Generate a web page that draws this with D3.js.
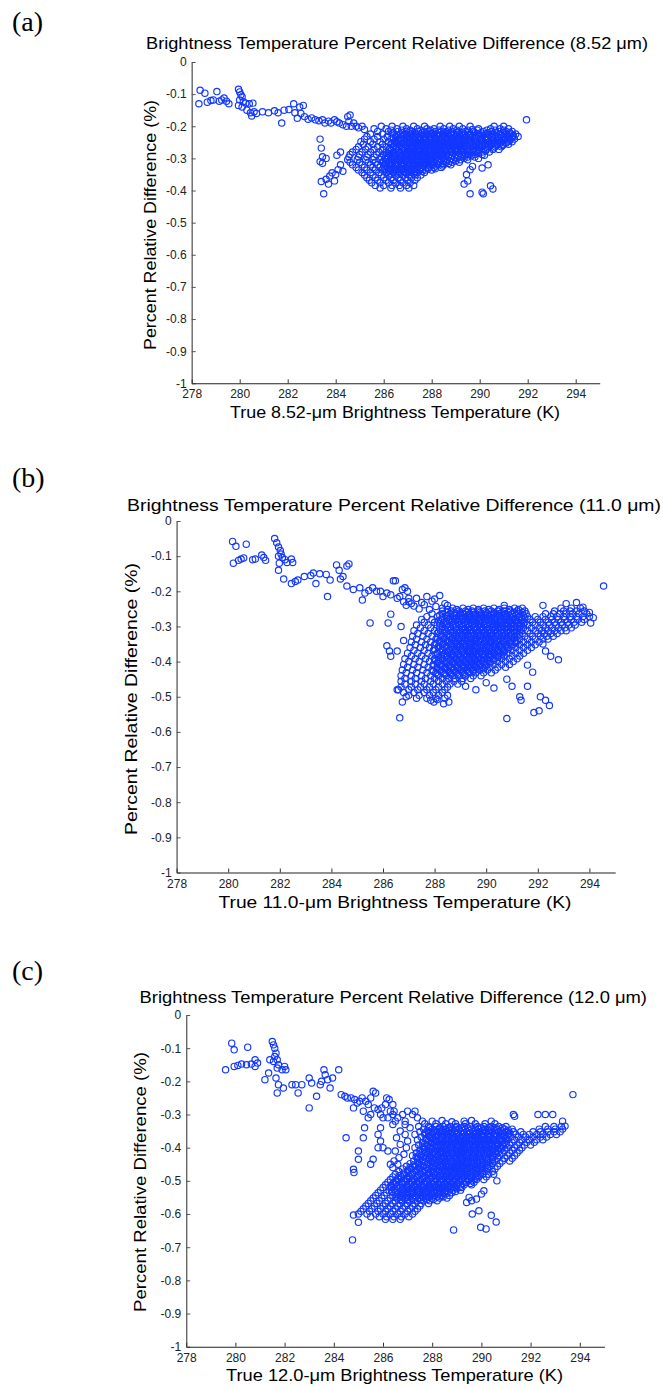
<!DOCTYPE html>
<html><head><meta charset="utf-8">
<script src="https://cdn.jsdelivr.net/npm/d3@7/dist/d3.min.js"></script>
<style>
html,body{margin:0;padding:0;background:#fff;}
svg{display:block;}
</style></head><body>
<svg id="fig" width="663" height="1389"></svg>
<script>
// Axis ticks and labels
const xTicks = [278, 280, 282, 284, 286, 288, 290, 292, 294];
const yTicks = [0, -0.1, -0.2, -0.3, -0.4, -0.5, -0.6, -0.7, -0.8, -0.9, -1];
const panelTags = ["(a)", "(b)", "(c)"];
const titles = [
  "Brightness Temperature Percent Relative Difference (8.52 \u03bcm)",
  "Brightness Temperature Percent Relative Difference (11.0 \u03bcm)",
  "Brightness Temperature Percent Relative Difference (12.0 \u03bcm)"
];
const xLabels = [
  "True 8.52-\u03bcm Brightness Temperature (K)",
  "True 11.0-\u03bcm Brightness Temperature (K)",
  "True 12.0-\u03bcm Brightness Temperature (K)"
];
const yLabel = "Percent Relative Difference (%)";

// ---- 8.52 um: scattered points [K, %] ----
const trailA = [
 [278.3,-.13],[278.35,-.088],[278.55,-.097],[278.65,-.125],[278.8,-.12],[278.9,-.118],[279.05,-.092],[279.15,-.122],[279.25,-.118],[279.35,-.112],[279.45,-.122],[279.55,-.13],
 [279.95,-.085],[280.0,-.093],[280.05,-.102],[280.1,-.108],[280.0,-.118],[280.15,-.124],[279.95,-.135],[280.1,-.14],[280.25,-.128],[280.3,-.15],[280.4,-.13],[280.45,-.158],[280.55,-.128],[280.6,-.155],[280.7,-.16],[280.5,-.168],
 [280.95,-.155],[281.2,-.158],[281.45,-.152],[281.6,-.158],[281.75,-.19],[281.85,-.15],[282.05,-.148],[282.25,-.13],[282.3,-.158],[282.4,-.175],[282.5,-.14],[282.55,-.16],[282.65,-.135],[282.7,-.17],[282.85,-.178],[283.0,-.174],[283.15,-.18],[283.3,-.183],[283.45,-.18],[283.55,-.19],[283.7,-.184],[283.8,-.19],[283.95,-.18],[284.05,-.186],[284.15,-.19],[284.3,-.195],[284.45,-.2],[284.5,-.17],[284.55,-.185],[284.6,-.165],[284.65,-.2],[284.75,-.19],[284.85,-.2],[284.95,-.205],[285.1,-.2],[285.2,-.21],
 [283.35,-.24],[283.4,-.268],[283.45,-.295],[283.6,-.3],[283.35,-.31],[283.45,-.315],[283.6,-.365],[283.4,-.372],[283.75,-.355],[283.85,-.345],[284.0,-.35],[284.1,-.335],[283.5,-.41],[283.7,-.38],[283.95,-.37],[284.2,-.32],[284.3,-.34],[284.05,-.29],[284.2,-.28],
 [289.45,-.35],[289.5,-.37],[289.6,-.335],[289.7,-.325],[289.35,-.38],[289.6,-.41],[290.1,-.405],[290.15,-.41],[290.45,-.385],[290.55,-.395],[289.95,-.3],[290.1,-.33],[290.35,-.32],[290.2,-.29],[291.95,-.18],[289.6,-.2],[289.7,-.21]
];
// ---- 8.52 um: dense cloud, listed per level [%, K values] ----
const coreA = [
 [-.200,[285.9,286.35,286.8,287.25,287.7,288.35,288.75,289.15,290.6,291.0]],
 [-.208,[285.6,286.1,286.55,286.95,287.4,287.8,288.1,288.5,288.9,289.3,289.95,290.45,290.85,291.2]],
 [-.216,[285.75,286.2,286.6,286.95,287.2,287.45,287.7,287.9,288.15,288.4,288.6,288.85,289.1,289.4,289.75,290.15,290.5,290.8,291.1,291.35]],
 [-.224,[285.45,285.95,286.35,286.7,286.95,287.15,287.35,287.55,287.8,288.0,288.2,288.45,288.65,288.9,289.15,289.35,289.6,289.95,290.25,290.55,290.85,291.1,291.3,291.5]],
 [-.232,[285.3,285.75,286.15,286.5,286.8,287.0,287.25,287.45,287.65,287.9,288.1,288.3,288.55,288.75,289.0,289.2,289.45,289.7,289.95,290.25,290.5,290.75,291.0,291.2,291.4,291.6]],
 [-.240,[285.2,285.6,286.0,286.3,286.6,286.85,287.1,287.3,287.55,287.75,287.95,288.2,288.4,288.65,288.85,289.1,289.3,289.55,289.8,290.05,290.3,290.55,290.8,291.05,291.25,291.45]],
 [-.248,[285.05,285.45,285.85,286.2,286.45,286.7,286.95,287.2,287.4,287.6,287.85,288.05,288.3,288.5,288.75,288.95,289.2,289.4,289.65,289.9,290.15,290.4,290.65,290.9,291.15,291.35]],
 [-.256,[285.15,285.55,285.95,286.3,286.55,286.8,287.05,287.3,287.5,287.7,287.95,288.15,288.35,288.6,288.8,289.05,289.25,289.5,289.75,290.0,290.25,290.5,290.75,291.0,291.2]],
 [-.264,[284.95,285.35,285.75,286.1,286.4,286.65,286.9,287.15,287.35,287.6,287.8,288.0,288.25,288.45,288.7,288.9,289.15,289.35,289.6,289.85,290.1,290.35,290.65,290.9]],
 [-.272,[284.85,285.25,285.6,285.95,286.25,286.5,286.75,287.0,287.2,287.45,287.65,287.9,288.1,288.3,288.55,288.75,289.0,289.2,289.45,289.7,289.95,290.25,290.55,290.8]],
 [-.280,[284.7,285.1,285.45,285.8,286.1,286.4,286.65,286.9,287.1,287.3,287.55,287.75,287.95,288.2,288.4,288.6,288.85,289.05,289.3,289.55,289.8,290.1,290.4]],
 [-.288,[284.6,285.0,285.35,285.7,286.0,286.3,286.55,286.8,287.0,287.25,287.45,287.65,287.9,288.1,288.3,288.5,288.75,289.0,289.25,289.5,289.8,290.1]],
 [-.296,[284.55,284.95,285.3,285.6,285.9,286.2,286.45,286.7,286.95,287.15,287.35,287.6,287.8,288.0,288.25,288.45,288.7,288.95,289.2,289.5,289.8]],
 [-.304,[284.5,284.9,285.25,285.55,285.85,286.1,286.35,286.6,286.85,287.05,287.3,287.5,287.75,287.95,288.15,288.4,288.65,288.9,289.2,289.5]],
 [-.312,[284.6,285.0,285.35,285.65,285.95,286.25,286.5,286.75,286.95,287.2,287.4,287.65,287.85,288.1,288.35,288.6,288.85,289.15]],
 [-.320,[284.7,285.1,285.45,285.75,286.05,286.3,286.55,286.8,287.05,287.3,287.5,287.75,288.0,288.25,288.5,288.8]],
 [-.328,[284.85,285.2,285.55,285.85,286.15,286.4,286.65,286.9,287.15,287.4,287.6,287.85,288.1,288.4]],
 [-.336,[284.95,285.3,285.65,285.95,286.25,286.5,286.75,287.0,287.25,287.5,287.75,288.0]],
 [-.344,[285.1,285.45,285.8,286.1,286.4,286.65,286.9,287.15,287.4,287.7]],
 [-.352,[285.2,285.55,285.9,286.2,286.5,286.8,287.05,287.3,287.55]],
 [-.360,[285.3,285.65,286.0,286.3,286.6,286.9,287.15,287.4]],
 [-.368,[285.4,285.75,286.1,286.4,286.7,287.0,287.3]],
 [-.376,[285.5,285.85,286.2,286.5,286.8,287.1]],
 [-.384,[285.65,286.0,286.35,286.65,286.95,287.25]],
 [-.392,[285.85,286.3,286.7,287.05]]
];
// the most crowded part of the 8.52 um cloud, between the levels above
const fillA = [
 [-.212,[286.3,286.75,287.1,287.55,287.95,288.3,288.7,289.05,289.5,289.9,290.3,290.65,291.0]],
 [-.220,[286.4,286.8,287.05,287.3,287.6,287.8,288.05,288.3,288.55,288.8,289.05,289.25,289.5,289.8,290.05,290.35,290.7,290.95,291.25]],
 [-.228,[286.55,286.85,287.1,287.35,287.6,287.85,288.1,288.3,288.5,288.8,289.05,289.3,289.55,289.8,290.1,290.4,290.65,290.9,291.15,291.4]],
 [-.236,[286.4,286.7,286.95,287.2,287.45,287.7,287.95,288.15,288.45,288.65,288.9,289.15,289.4,289.6,289.85,290.1,290.35,290.65,290.9,291.15,291.35]],
 [-.244,[286.5,286.75,287.0,287.25,287.5,287.7,287.9,288.15,288.35,288.6,288.8,289.05,289.3,289.5,289.75,290.0,290.25,290.5,290.75,291.0,291.25]],
 [-.252,[286.35,286.6,286.85,287.1,287.35,287.55,287.8,288.0,288.25,288.45,288.65,288.9,289.1,289.35,289.6,289.85,290.1,290.35,290.6,290.85,291.1]],
 [-.260,[286.45,286.7,286.95,287.2,287.45,287.65,287.85,288.1,288.3,288.55,288.75,289.0,289.2,289.45,289.7,289.95,290.2,290.45,290.7,290.95]],
 [-.268,[286.25,286.55,286.8,287.05,287.25,287.5,287.7,287.95,288.15,288.35,288.6,288.8,289.05,289.3,289.5,289.75,290.0,290.3,290.55]],
 [-.276,[286.3,286.6,286.85,287.05,287.25,287.45,287.7,287.9,288.1,288.35,288.55,288.8,289.0,289.25,289.5,289.7,289.95,290.25]],
 [-.284,[286.2,286.45,286.7,286.95,287.15,287.35,287.6,287.8,288.05,288.25,288.45,288.65,288.9,289.15,289.4,289.65,289.95]],
 [-.292,[286.1,286.4,286.65,286.9,287.1,287.3,287.5,287.75,287.95,288.15,288.4,288.6,288.85,289.1,289.35,289.65]],
 [-.300,[286.05,286.3,286.55,286.75,287.0,287.2,287.4,287.65,287.85,288.05,288.3,288.5,288.8,289.05,289.35]],
 [-.308,[286.0,286.25,286.45,286.7,286.9,287.15,287.35,287.6,287.8,288.0,288.25,288.5,288.75,289.0]],
 [-.316,[286.1,286.35,286.6,286.85,287.1,287.3,287.55,287.75,287.95,288.2,288.45,288.7]],
 [-.324,[286.0,286.25,286.5,286.75,287.0,287.2,287.45,287.65,287.9,288.15,288.45]],
 [-.332,[286.05,286.3,286.55,286.8,287.05,287.3,287.55,287.85,288.15]],
 [-.340,[286.2,286.5,286.8,287.05,287.3,287.6]],
 [-.348,[286.3,286.6,286.95,287.25]]
];

// ---- 11.0 um ----
const trailB = [
 [280.17,-.058],[280.3,-.072],[280.2,-.12],[280.4,-.112],[280.5,-.108],[280.6,-.105],[280.7,-.066],[280.95,-.11],[281.05,-.108],[281.3,-.097],[281.38,-.104],[281.45,-.112],
 [281.8,-.05],[281.88,-.062],[281.95,-.074],[282.02,-.084],[281.95,-.1],[282.05,-.094],[282.1,-.104],[281.98,-.12],[281.95,-.14],[282.2,-.11],[282.28,-.118],[282.45,-.108],[282.5,-.118],[282.15,-.165],[282.45,-.178],[282.6,-.172],[282.7,-.168],[282.95,-.158],[283.2,-.155],[283.3,-.148],[283.4,-.178],[283.55,-.15],[283.8,-.152],[283.95,-.168],[283.85,-.215],[284.2,-.125],[284.3,-.14],[284.35,-.165],[284.45,-.158],[284.6,-.128],[284.68,-.122],[284.6,-.185],[284.85,-.195],[285.1,-.19],[285.2,-.225],[285.3,-.205],[285.45,-.198],[285.6,-.19],[285.75,-.2],[285.9,-.2],[286.0,-.215],[286.15,-.205],[286.3,-.21],[286.4,-.17],[286.48,-.17],[286.55,-.22],[286.65,-.215],[286.75,-.195],[286.85,-.19],[286.95,-.2],[287.0,-.22],[287.1,-.235],[286.8,-.23],
 [287.3,-.22],[287.7,-.215],[288.0,-.222],[288.2,-.212],[287.0,-.23],[287.5,-.232],[287.9,-.228],[288.4,-.235],[286.9,-.24],[287.2,-.242],[287.6,-.238],[288.05,-.243],[288.5,-.24],[290.7,-.24],[287.4,-.25],[287.8,-.252],[288.3,-.248],
 [285.5,-.29],[286.2,-.29],[286.3,-.265],[286.15,-.355],[286.25,-.37],[286.3,-.385],[286.55,-.37],[286.8,-.34],[286.7,-.3],[286.55,-.48],[286.9,-.5],[286.65,-.56],[286.75,-.515],
 [287.85,-.51],[287.97,-.515],[288.1,-.508],[288.35,-.52],[288.55,-.515],[290.8,-.562],[291.35,-.51],[291.85,-.545],[292.05,-.54],[292.3,-.51],[292.45,-.525],
 [289.2,-.47],[289.6,-.48],[290.0,-.46],[290.3,-.475],[290.8,-.45],[291.0,-.47],[291.3,-.5],[291.6,-.47],[292.1,-.5],[291.6,-.41],[291.8,-.43],[292.2,-.35],[292.3,-.37],[292.5,-.385],[292.8,-.395],
 [294.55,-.185],[292.2,-.24],[293.1,-.235],[293.5,-.232],[293.75,-.245],[294.0,-.26],[294.15,-.275],[294.05,-.29]
];
const coreB = [
 [-.248,[288.7,289.1,289.5,289.9,290.3,290.7,291.1,291.4,292.9,293.3,293.65]],
 [-.256,[288.3,288.65,288.95,289.2,289.45,289.7,289.95,290.2,290.45,290.7,290.95,291.2,291.5,292.65,293.0,293.25,293.5,293.8]],
 [-.264,[287.9,288.3,288.6,288.85,289.1,289.35,289.6,289.8,290.05,290.3,290.5,290.75,291.0,291.25,291.55,292.3,292.6,292.85,293.1,293.35,293.6,293.9]],
 [-.272,[287.7,288.1,288.45,288.7,288.95,289.2,289.4,289.65,289.9,290.1,290.35,290.6,290.8,291.05,291.3,291.6,291.9,292.2,292.5,292.75,293.0,293.25,293.5,293.75,294.0]],
 [-.280,[287.5,287.9,288.25,288.55,288.8,289.05,289.3,289.5,289.75,290.0,290.2,290.45,290.7,290.9,291.15,291.4,291.7,292.0,292.3,292.55,292.8,293.05,293.3,293.55,293.8]],
 [-.288,[287.6,288.0,288.35,288.65,288.9,289.15,289.4,289.6,289.85,290.1,290.3,290.55,290.8,291.0,291.25,291.5,291.8,292.1,292.4,292.65,292.9,293.15,293.4,293.7]],
 [-.296,[287.3,287.75,288.1,288.45,288.7,288.95,289.2,289.45,289.7,289.9,290.15,290.4,290.6,290.85,291.1,291.35,291.6,291.9,292.2,292.45,292.7,292.95,293.2,293.45]],
 [-.304,[287.45,287.85,288.2,288.5,288.8,289.05,289.3,289.5,289.75,290.0,290.25,290.45,290.7,290.95,291.2,291.45,291.75,292.05,292.3,292.55,292.8,293.05,293.3]],
 [-.312,[287.2,287.6,288.0,288.3,288.6,288.85,289.1,289.35,289.6,289.8,290.05,290.3,290.55,290.8,291.05,291.3,291.6,291.9,292.15,292.4,292.65,292.9,293.1]],
 [-.320,[287.35,287.75,288.1,288.4,288.7,288.95,289.2,289.4,289.65,289.9,290.15,290.35,290.6,290.85,291.1,291.4,291.7,292.0,292.25,292.5,292.75]],
 [-.328,[287.15,287.55,287.9,288.25,288.55,288.8,289.05,289.3,289.5,289.75,290.0,290.2,290.45,290.7,290.95,291.2,291.5,291.8,292.1,292.35,292.6]],
 [-.336,[287.3,287.7,288.05,288.35,288.65,288.9,289.15,289.4,289.6,289.85,290.1,290.3,290.55,290.8,291.05,291.3,291.6,291.9,292.2,292.4]],
 [-.344,[287.1,287.5,287.85,288.2,288.5,288.75,289.0,289.25,289.45,289.7,289.95,290.2,290.4,290.65,290.9,291.15,291.45,291.75,292.05]],
 [-.352,[287.25,287.65,288.0,288.3,288.6,288.85,289.1,289.35,289.55,289.8,290.05,290.3,290.5,290.75,291.0,291.3,291.6,291.9]],
 [-.360,[287.05,287.45,287.8,288.15,288.45,288.7,288.95,289.2,289.4,289.65,289.9,290.15,290.35,290.6,290.85,291.15,291.45,291.75]],
 [-.368,[287.2,287.6,287.95,288.3,288.55,288.8,289.05,289.3,289.5,289.75,290.0,290.25,290.45,290.7,291.0,291.3,291.6]],
 [-.376,[286.95,287.35,287.75,288.1,288.4,288.65,288.9,289.15,289.35,289.6,289.85,290.1,290.3,290.55,290.85,291.15,291.45]],
 [-.384,[287.1,287.5,287.9,288.25,288.5,288.75,289.0,289.25,289.5,289.7,289.95,290.2,290.45,290.7,291.0,291.3]],
 [-.392,[286.85,287.25,287.65,288.0,288.3,288.6,288.85,289.1,289.35,289.55,289.8,290.05,290.3,290.6,290.9,291.2]],
 [-.400,[287.0,287.4,287.8,288.15,288.45,288.7,288.95,289.2,289.45,289.65,289.9,290.15,290.45,290.75,291.05]],
 [-.408,[286.8,287.2,287.6,287.95,288.25,288.55,288.8,289.05,289.3,289.5,289.75,290.0,290.3,290.6,290.9]],
 [-.416,[286.95,287.35,287.75,288.1,288.4,288.65,288.9,289.15,289.4,289.6,289.85,290.15,290.45,290.75]],
 [-.424,[286.75,287.15,287.55,287.9,288.2,288.5,288.75,289.0,289.25,289.5,289.75,290.05,290.35]],
 [-.432,[286.9,287.3,287.7,288.05,288.35,288.6,288.85,289.1,289.35,289.6,289.9,290.2]],
 [-.440,[286.7,287.1,287.5,287.85,288.15,288.45,288.7,288.95,289.2,289.5,289.8]],
 [-.448,[286.85,287.25,287.65,288.0,288.3,288.55,288.8,289.1,289.4]],
 [-.456,[286.7,287.1,287.5,287.85,288.15,288.45,288.75,289.05]],
 [-.464,[286.85,287.25,287.6,287.95,288.3,288.6,288.9]],
 [-.472,[286.7,287.1,287.45,287.8,288.15,288.5]],
 [-.480,[286.6,287.0,287.35,287.7,288.05,288.4]],
 [-.488,[286.8,287.2,287.6,287.95,288.3]],
 [-.496,[287.0,287.4,287.8,288.15,288.5]],
 [-.504,[287.3,287.7,288.05,288.4]]
];
const fillB = [
 [-.252,[288.5,288.85,289.3,289.7,290.1,290.5,290.9,291.25]],
 [-.260,[288.45,288.75,289.0,289.25,289.5,289.75,290.0,290.3,290.6,290.85,291.1,291.4]],
 [-.268,[288.2,288.5,288.75,289.0,289.3,289.5,289.75,289.95,290.2,290.45,290.7,290.9,291.15,291.45]],
 [-.276,[288.3,288.6,288.85,289.1,289.35,289.6,289.8,290.05,290.3,290.55,290.75,291.0,291.25,291.5]],
 [-.284,[288.15,288.45,288.7,288.95,289.2,289.45,289.7,289.95,290.15,290.35,290.6,290.85,291.1,291.35]],
 [-.292,[288.2,288.5,288.8,289.05,289.3,289.55,289.75,290.0,290.25,290.45,290.7,290.95,291.2,291.45]],
 [-.300,[288.3,288.6,288.85,289.1,289.35,289.6,289.8,290.05,290.3,290.55,290.8,291.05,291.3]],
 [-.308,[288.4,288.65,288.95,289.2,289.4,289.65,289.9,290.15,290.35,290.6,290.85,291.1,291.35]],
 [-.316,[288.15,288.45,288.75,289.0,289.25,289.5,289.7,289.95,290.2,290.45,290.7,290.95,291.2]],
 [-.324,[288.25,288.55,288.85,289.1,289.3,289.55,289.8,290.05,290.25,290.5,290.75,291.0,291.3]],
 [-.332,[288.1,288.4,288.7,288.95,289.2,289.4,289.65,289.9,290.1,290.35,290.6,290.85,291.1]],
 [-.340,[288.2,288.5,288.8,289.05,289.3,289.55,289.75,290.0,290.2,290.45,290.7,290.95,291.2]],
 [-.348,[288.05,288.35,288.65,288.9,289.15,289.4,289.65,289.9,290.15,290.35,290.6,290.9,291.15]],
 [-.356,[288.15,288.45,288.75,289.0,289.25,289.5,289.75,290.0,290.25,290.5,290.75,291.0]],
 [-.364,[288.0,288.3,288.6,288.85,289.1,289.35,289.6,289.85,290.1,290.35,290.6,290.85]],
 [-.372,[288.2,288.5,288.8,289.05,289.3,289.5,289.75,289.95,290.2,290.45,290.7]],
 [-.380,[288.05,288.35,288.65,288.9,289.15,289.4,289.6,289.85,290.1,290.35,290.6]],
 [-.388,[288.15,288.45,288.75,289.0,289.25,289.45,289.7,289.9,290.15,290.45]],
 [-.396,[288.0,288.3,288.6,288.85,289.1,289.35,289.55,289.8,290.05,290.3]],
 [-.404,[288.1,288.4,288.7,288.95,289.2,289.4,289.65,289.9,290.15]],
 [-.412,[287.95,288.25,288.55,288.85,289.1,289.3,289.55,289.75,290.0]],
 [-.420,[288.1,288.4,288.65,288.9,289.15,289.4,289.65,289.9]],
 [-.428,[287.95,288.25,288.55,288.8,289.05,289.3,289.5]],
 [-.436,[288.1,288.4,288.65,288.9,289.15]]
];

// ---- 12.0 um ----
const trailC = [
 [279.6,-.165],[279.85,-.085],[279.95,-.105],[279.95,-.155],[280.1,-.152],[280.25,-.148],[280.45,-.15],[280.5,-.097],[280.65,-.148],[280.8,-.135],[280.8,-.155],[280.9,-.145],[281.2,-.195],[281.35,-.175],[281.4,-.135],[281.5,-.08],[281.55,-.09],[281.6,-.1],[281.65,-.115],[281.6,-.125],[281.55,-.14],[281.7,-.135],[281.75,-.15],[281.7,-.16],[281.65,-.19],[281.75,-.21],[281.7,-.235],[281.95,-.22],[281.9,-.165],[282.05,-.165],[282.0,-.155],
 [282.3,-.21],[282.45,-.21],[282.55,-.235],[282.7,-.21],[283.0,-.19],[283.0,-.28],[283.1,-.205],[283.3,-.245],[283.45,-.21],[283.5,-.2],[283.6,-.165],[283.65,-.18],[283.75,-.195],[283.85,-.22],[283.95,-.19],[284.2,-.165],[284.3,-.24],[284.45,-.245],[284.55,-.25],[284.7,-.25],[284.85,-.255],[284.95,-.265],[285.05,-.26],[285.15,-.25],[285.3,-.26],[285.4,-.27],[285.5,-.25],[285.6,-.23],[285.7,-.235],
 [285.2,-.29],[285.4,-.31],[285.5,-.3],[285.65,-.28],[285.8,-.285],[285.95,-.28],[286.1,-.27],[286.15,-.25],[286.25,-.255],[286.0,-.31],[285.9,-.3],[286.3,-.29],[286.4,-.27],[286.45,-.29],
 [286.4,-.3],[286.8,-.3],[287.2,-.3],[286.2,-.31],[286.6,-.31],[287.0,-.29],[287.4,-.31],[286.5,-.32],[286.9,-.32],[287.3,-.29],[287.6,-.32],[288.0,-.32],[288.4,-.318],[288.8,-.322],[289.3,-.32],[289.6,-.318],[290.4,-.32],
 [286.9,-.33],[287.1,-.34],[286.7,-.35],[286.4,-.33],[286.9,-.36],[286.55,-.37],[287.0,-.38],[286.7,-.39],[286.5,-.41],[286.85,-.42],[286.65,-.43],[286.45,-.44],[286.6,-.45],[286.95,-.4],
 [284.5,-.37],[284.8,-.28],[285.0,-.41],[285.2,-.37],[285.25,-.34],[284.8,-.465],[284.82,-.475],[285.0,-.435],[285.6,-.435],[285.8,-.4],[285.9,-.38],[285.8,-.36],[285.5,-.45],[285.9,-.34],[286.0,-.4],[286.2,-.41],[286.3,-.45],[286.4,-.46],
 [284.76,-.678],[284.8,-.603],[285.0,-.625],[288.87,-.648],[289.63,-.6],[289.9,-.59],[289.97,-.64],[290.19,-.645],[290.4,-.604],[290.6,-.624],
 [289.4,-.565],[289.6,-.56],[289.5,-.55],[289.8,-.555],[290.0,-.54],[290.1,-.53],[290.63,-.5],[290.5,-.48],
 [293.72,-.24],[292.9,-.3],[292.6,-.3],[292.3,-.3],[291.3,-.3],[291.35,-.305],[293.3,-.32],[293.4,-.335]
];
const coreC = [
 [-.328,[287.7,288.15,288.55,288.95,289.35,289.75,290.15,290.55]],
 [-.336,[287.45,287.85,288.15,288.45,288.75,289.0,289.3,289.55,289.85,290.1,290.4,290.7,291.0,292.6,292.95,293.25]],
 [-.344,[287.65,288.0,288.3,288.55,288.8,289.1,289.35,289.6,289.9,290.15,290.4,290.65,290.95,291.25,292.35,292.7,293.0,293.3]],
 [-.352,[287.5,287.85,288.15,288.4,288.65,288.9,289.15,289.4,289.65,289.9,290.15,290.4,290.7,291.0,291.3,291.6,292.1,292.4,292.7,292.95,293.2]],
 [-.360,[287.3,287.7,288.0,288.25,288.5,288.75,289.0,289.25,289.5,289.75,290.0,290.25,290.5,290.8,291.1,291.4,291.7,291.95,292.25,292.5,292.8,293.05]],
 [-.368,[287.55,287.9,288.15,288.4,288.65,288.9,289.15,289.4,289.6,289.85,290.1,290.35,290.6,290.9,291.2,291.5,291.8,292.1,292.4,292.65]],
 [-.376,[287.4,287.75,288.05,288.3,288.55,288.8,289.05,289.3,289.5,289.75,290.0,290.25,290.5,290.75,291.05,291.35,291.65,291.95,292.25,292.5]],
 [-.384,[287.6,287.95,288.2,288.45,288.7,288.95,289.2,289.4,289.65,289.9,290.15,290.4,290.65,290.95,291.25,291.55,291.85,292.15]],
 [-.392,[287.45,287.8,288.1,288.35,288.6,288.85,289.1,289.3,289.55,289.8,290.05,290.3,290.55,290.85,291.15,291.45,291.75,292.0]],
 [-.400,[287.3,287.65,287.95,288.25,288.5,288.75,289.0,289.2,289.45,289.7,289.95,290.2,290.45,290.75,291.05,291.35,291.65]],
 [-.408,[287.5,287.85,288.15,288.4,288.65,288.9,289.15,289.35,289.6,289.85,290.1,290.35,290.65,290.95,291.25,291.55]],
 [-.416,[287.35,287.7,288.0,288.3,288.55,288.8,289.05,289.25,289.5,289.75,290.0,290.25,290.55,290.85,291.15,291.45]],
 [-.424,[287.2,287.55,287.9,288.2,288.45,288.7,288.95,289.15,289.4,289.65,289.9,290.15,290.45,290.75,291.05,291.35]],
 [-.432,[287.4,287.75,288.05,288.35,288.6,288.85,289.1,289.3,289.55,289.8,290.05,290.35,290.65,290.95,291.25]],
 [-.440,[287.25,287.6,287.95,288.25,288.5,288.75,289.0,289.2,289.45,289.7,289.95,290.25,290.55,290.85,291.15]],
 [-.448,[287.1,287.45,287.8,288.1,288.4,288.65,288.9,289.1,289.35,289.6,289.85,290.15,290.45,290.75]],
 [-.456,[286.95,287.3,287.65,288.0,288.3,288.55,288.8,289.0,289.25,289.5,289.75,290.05,290.35,290.65]],
 [-.464,[286.8,287.15,287.5,287.85,288.15,288.45,288.7,288.9,289.15,289.4,289.65,289.95,290.25,290.55]],
 [-.472,[286.65,287.0,287.35,287.7,288.0,288.3,288.55,288.8,289.05,289.3,289.55,289.85,290.15,290.45]],
 [-.480,[286.5,286.85,287.2,287.55,287.85,288.15,288.45,288.7,288.95,289.2,289.45,289.75,290.05,290.3]],
 [-.488,[286.4,286.75,287.1,287.4,287.7,288.0,288.3,288.55,288.8,289.05,289.3,289.6,289.9,290.2]],
 [-.496,[286.3,286.65,287.0,287.3,287.6,287.9,288.2,288.45,288.7,288.95,289.2,289.5,289.8,290.1]],
 [-.504,[286.2,286.55,286.9,287.2,287.5,287.8,288.1,288.35,288.6,288.85,289.1,289.4,289.7]],
 [-.512,[286.1,286.45,286.8,287.1,287.4,287.7,288.0,288.25,288.5,288.75,289.0,289.3,289.6]],
 [-.520,[286.0,286.35,286.7,287.0,287.3,287.6,287.9,288.15,288.4,288.65,288.9,289.2]],
 [-.528,[285.9,286.25,286.6,286.9,287.2,287.5,287.8,288.05,288.3,288.55,288.85,289.15]],
 [-.536,[285.8,286.15,286.5,286.8,287.1,287.4,287.7,287.95,288.2,288.5,288.8]],
 [-.544,[285.7,286.05,286.4,286.7,287.0,287.3,287.6,287.85,288.1,288.4,288.7]],
 [-.552,[285.6,285.95,286.3,286.6,286.9,287.2,287.5,287.75,288.0,288.3,288.6]],
 [-.560,[285.5,285.85,286.2,286.5,286.8,287.1,287.4,287.65,287.9,288.2]],
 [-.568,[285.4,285.75,286.1,286.4,286.7,287.0,287.3,287.55,287.85]],
 [-.576,[285.3,285.65,286.0,286.3,286.6,286.9,287.2,287.5]],
 [-.584,[285.2,285.55,285.9,286.2,286.5,286.8,287.1,287.4]],
 [-.592,[285.1,285.45,285.8,286.1,286.4,286.7,287.0,287.3]],
 [-.600,[285.0,285.35,285.7,286.0,286.3,286.6,286.9,287.2]],
 [-.608,[285.5,285.85,286.15,286.45,286.75,287.05]],
 [-.616,[286.1,286.4,286.7]]
];
const fillC = [
 [-.340,[287.9,288.3,288.65,288.95,289.2,289.45,289.75,290.0,290.3,290.55,290.85]],
 [-.348,[287.8,288.1,288.4,288.7,288.95,289.25,289.5,289.75,290.05,290.3,290.55,290.8,291.1]],
 [-.356,[287.7,288.0,288.3,288.55,288.8,289.05,289.3,289.55,289.8,290.05,290.3,290.55,290.85,291.15]],
 [-.364,[287.85,288.15,288.4,288.65,288.85,289.1,289.35,289.6,289.8,290.05,290.3,290.55,290.75,291.05]],
 [-.372,[287.75,288.0,288.3,288.55,288.8,289.05,289.25,289.5,289.75,289.95,290.2,290.45,290.75,291.0]],
 [-.380,[287.85,288.15,288.4,288.65,288.9,289.15,289.35,289.6,289.85,290.1,290.3,290.55,290.85]],
 [-.388,[287.7,288.0,288.3,288.55,288.8,289.0,289.25,289.5,289.75,289.95,290.2,290.45,290.7,291.0]],
 [-.396,[287.6,287.9,288.2,288.45,288.7,288.95,289.2,289.4,289.65,289.9,290.15,290.4,290.65,290.9]],
 [-.404,[287.7,288.0,288.3,288.55,288.8,289.05,289.3,289.5,289.75,290.0,290.25,290.55,290.8]],
 [-.412,[287.6,287.9,288.2,288.45,288.75,289.0,289.2,289.45,289.7,289.95,290.2,290.45,290.7]],
 [-.420,[287.5,287.8,288.1,288.35,288.6,288.85,289.1,289.35,289.6,289.85,290.1,290.35,290.6]],
 [-.428,[287.35,287.65,287.95,288.25,288.5,288.75,289.0,289.25,289.45,289.7,289.95,290.2,290.5]],
 [-.436,[287.5,287.85,288.15,288.4,288.7,288.95,289.2,289.4,289.65,289.9,290.2,290.45]],
 [-.444,[287.4,287.7,288.0,288.3,288.55,288.8,289.05,289.3,289.55,289.8,290.05,290.35]],
 [-.452,[287.25,287.55,287.9,288.2,288.45,288.7,288.95,289.2,289.4,289.65,289.95,290.25]],
 [-.460,[287.1,287.45,287.75,288.05,288.35,288.6,288.85,289.05,289.3,289.55,289.85,290.15]],
 [-.468,[287.0,287.3,287.6,287.95,288.25,288.5,288.75,289.0,289.2,289.45,289.75,290.05]],
 [-.476,[286.85,287.2,287.5,287.85,288.1,288.4,288.65,288.9,289.15,289.4,289.65,289.95]],
 [-.484,[286.7,287.05,287.4,287.7,288.0,288.3,288.55,288.8,289.05,289.3,289.55,289.85]],
 [-.492,[286.6,286.95,287.25,287.6,287.9,288.15,288.4,288.7,288.95,289.2,289.45,289.75]],
 [-.500,[286.5,286.85,287.15,287.45,287.75,288.05,288.3,288.6,288.85,289.1,289.35,289.6]],
 [-.508,[286.4,286.75,287.05,287.35,287.65,287.95,288.25,288.5,288.75,289.0,289.25,289.55]],
 [-.516,[286.3,286.6,286.95,287.25,287.55,287.85,288.1,288.4,288.65,288.9,289.15]],
 [-.524,[286.45,286.8,287.1,287.4,287.7,287.95,288.25,288.5,288.75,289.0]],
 [-.532,[286.35,286.7,287.0,287.3,287.6,287.85,288.1,288.4,288.65,288.95]],
 [-.540,[286.6,286.9,287.2,287.5,287.75,288.0,288.3,288.55]],
 [-.548,[286.5,286.8,287.1,287.35,287.65,287.9,288.2,288.45]],
 [-.556,[286.7,287.0,287.25,287.55,287.8,288.05]]
];

// Turn a per-level listing into plain [K, %] pairs
const unpack = rows => rows.flatMap(([v, ks]) => ks.map(k => [k, v]));
const allSeries = [
  trailA.concat(unpack(coreA), unpack(fillA)),
  trailB.concat(unpack(coreB), unpack(fillB)),
  trailC.concat(unpack(coreC), unpack(fillC))
];

// Page layout of the three stacked panels
const frames = [
  {left:191.7, right:599.7, top:62,  bottom:383.3,  tag:[12,31],  title:[146,648,49],   xlab:[395,418,330],   ylab:[150,225,250]},
  {left:176.6, right:615.2, top:521, bottom:872.5,  tag:[12,487], title:[127,661,511],  xlab:[395,908,353],   ylab:[131.5,699,272]},
  {left:186.2, right:604.4, top:1015,bottom:1346.7, tag:[12,980], title:[139.5,647,1002.7], xlab:[394.5,1381,337], ylab:[140,1182,260]}
];

const sans = "'Liberation Sans', Arial, Helvetica, sans-serif";
const svg = d3.select("#fig");
const fmtY = v => v === 0 ? "0" : (v === -1 ? "-1" : v.toFixed(1));

frames.forEach((f, i) => {
  const x = d3.scaleLinear().domain([278, 295]).range([f.left, f.right]);
  const y = d3.scaleLinear().domain([-1, 0]).range([f.bottom, f.top]);
  const g = svg.append("g");

  g.append("text").attr("x", f.tag[0]).attr("y", f.tag[1])
    .style("font-family", "'Liberation Serif', 'Times New Roman', serif")
    .style("font-size", "28px").attr("fill", "#000").text(panelTags[i]);

  g.append("text").attr("x", f.title[0]).attr("y", f.title[2])
    .style("font-family", sans).style("font-size", "16.5px").attr("fill", "#000")
    .attr("textLength", f.title[1] - f.title[0]).attr("lengthAdjust", "spacingAndGlyphs")
    .text(titles[i]);

  // y axis (ticks point into the plot)
  const ya = g.append("g").attr("transform", `translate(${f.left},0)`)
    .call(d3.axisLeft(y).tickValues(yTicks).tickFormat(fmtY)
      .tickSizeInner(-4).tickSizeOuter(0).tickPadding(5));
  ya.select(".domain").attr("stroke", "#666").attr("stroke-width", 1.4);
  ya.selectAll(".tick line").attr("stroke", "#555");
  ya.selectAll(".tick text").style("font-size", "12px").style("font-family", sans).attr("fill", "#222");

  // x axis
  const xa = g.append("g").attr("transform", `translate(0,${f.bottom})`)
    .call(d3.axisBottom(x).tickValues(xTicks).tickFormat(d3.format("d"))
      .tickSizeInner(-4).tickSizeOuter(0).tickPadding(6.5));
  xa.select(".domain").attr("stroke", "#222").attr("stroke-width", 1.1);
  xa.selectAll(".tick line").attr("stroke", "#333");
  xa.selectAll(".tick text").style("font-size", "12px").style("font-family", sans).attr("fill", "#222");

  g.append("text").attr("x", f.xlab[0]).attr("y", f.xlab[1])
    .attr("text-anchor", "middle").style("font-family", sans).style("font-size", "17px").attr("fill", "#000")
    .attr("textLength", f.xlab[2]).attr("lengthAdjust", "spacingAndGlyphs")
    .text(xLabels[i]);

  g.append("text")
    .attr("transform", `translate(${f.ylab[0]},${f.ylab[1]}) rotate(-90)`)
    .attr("text-anchor", "middle").attr("dy", "0.35em")
    .style("font-family", sans).style("font-size", "17px").attr("fill", "#000")
    .attr("textLength", f.ylab[2]).attr("lengthAdjust", "spacingAndGlyphs")
    .text(yLabel);

  g.append("g").selectAll("circle").data(allSeries[i]).join("circle")
    .attr("cx", d => x(d[0])).attr("cy", d => y(d[1]))
    .attr("r", 3.15).attr("fill", "none")
    .attr("stroke", "#1238ff").attr("stroke-width", 1.15);
});
</script>
</body></html>
